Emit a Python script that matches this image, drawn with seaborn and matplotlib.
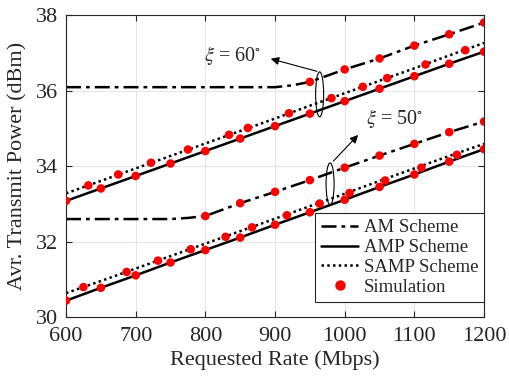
import numpy as np
import matplotlib
matplotlib.use("Agg")
import matplotlib.pyplot as plt
from matplotlib.patches import Ellipse
from matplotlib.lines import Line2D
import seaborn as sns

# ---- data ----
rate = [600, 650, 700, 750, 800, 850, 900, 950, 1000, 1050, 1100, 1150, 1200]

amp_60 = [33.08, 33.41, 33.74, 34.07, 34.40, 34.73, 35.06, 35.39, 35.72, 36.05, 36.38, 36.71, 37.03]
samp_60 = [33.28, 33.61, 33.94, 34.27, 34.60, 34.93, 35.26, 35.60, 35.93, 36.26, 36.59, 36.93, 37.26]
amp_50 = [30.44, 30.78, 31.11, 31.45, 31.78, 32.11, 32.45, 32.78, 33.11, 33.45, 33.78, 34.12, 34.45]
samp_50 = [30.64, 30.96, 31.29, 31.62, 31.95, 32.28, 32.61, 32.94, 33.27, 33.61, 33.94, 34.27, 34.59]

am_60_x = [600, 700, 800, 900, 925, 950, 1000, 1050, 1100, 1150, 1200]
am_60 = [36.09, 36.09, 36.09, 36.09, 36.14, 36.23, 36.56, 36.85, 37.19, 37.49, 37.80]
am_50_x = [600, 650, 700, 750, 775, 800, 850, 900, 950, 1000, 1050, 1100, 1150, 1200]
am_50 = [32.60, 32.60, 32.60, 32.60, 32.63, 32.68, 33.02, 33.32, 33.63, 33.96, 34.28, 34.59, 34.90, 35.18]

# simulation points
sim_am60_x = [950, 1000, 1050, 1100, 1150, 1200]
sim_am60_y = [36.23, 36.56, 36.85, 37.19, 37.49, 37.80]
sim_am50_x = [800, 850, 900, 950, 1000, 1050, 1100, 1150, 1200]
sim_am50_y = [32.68, 33.02, 33.32, 33.63, 33.96, 34.28, 34.59, 34.90, 35.18]
sim_samp60_x = [632, 675, 722, 775, 834, 861, 920, 981, 1026, 1061, 1116, 1173]
sim_samp60_y = [33.49, 33.78, 34.09, 34.44, 34.83, 35.01, 35.40, 35.80, 36.10, 36.33, 36.69, 37.07]
sim_samp50_x = [625, 687, 732, 779, 829, 867, 917, 964, 1007, 1058, 1110, 1161]
sim_samp50_y = [30.80, 31.20, 31.50, 31.80, 32.13, 32.38, 32.70, 33.01, 33.29, 33.62, 33.96, 34.30]

# ---- style ----
sns.set_theme(style="whitegrid")
plt.rcParams["font.family"] = ["Liberation Serif", "DejaVu Serif"]
plt.rcParams["mathtext.fontset"] = "stix"

fig = plt.figure(figsize=(5.09, 3.79), dpi=100)
ax = fig.add_axes([0.1297, 0.1628, 0.8213, 0.7976])

dashdot = (0, (6, 2, 1.5, 2))
dotted = (0, (1, 1.3))
lw = 1.8

# analytical curves
sns.lineplot(x=am_60_x, y=am_60, ax=ax, color="black", lw=lw, linestyle=dashdot)
sns.lineplot(x=am_50_x, y=am_50, ax=ax, color="black", lw=lw, linestyle=dashdot)
sns.lineplot(x=rate, y=amp_60, ax=ax, color="black", lw=lw, linestyle="-")
sns.lineplot(x=rate, y=amp_50, ax=ax, color="black", lw=lw, linestyle="-")
sns.lineplot(x=rate, y=samp_60, ax=ax, color="black", lw=lw, linestyle=dotted)
sns.lineplot(x=rate, y=samp_50, ax=ax, color="black", lw=lw, linestyle=dotted)

# simulation markers
sim_x = rate + rate + sim_am60_x + sim_am50_x + sim_samp60_x + sim_samp50_x
sim_y = amp_60 + amp_50 + sim_am60_y + sim_am50_y + sim_samp60_y + sim_samp50_y
sns.scatterplot(x=sim_x, y=sim_y, ax=ax, color="red", s=38, edgecolor="none", zorder=5)

# ellipses + annotations
ax.add_patch(Ellipse((964, 35.90), 11.5, 1.19, fill=False, ec="black", lw=0.8, zorder=6))
ax.add_patch(Ellipse((979, 33.53), 11.5, 1.11, fill=False, ec="black", lw=0.8, zorder=6))
ax.annotate("", xy=(890, 36.86), xytext=(964, 36.49),
            arrowprops=dict(arrowstyle="-|>", color="black", lw=0.8, mutation_scale=12))
ax.annotate("", xy=(1022, 34.88), xytext=(981, 34.08),
            arrowprops=dict(arrowstyle="-|>", color="black", lw=0.8, mutation_scale=12))
ax.text(881, 36.94, r"$\xi$ = 60$^{\circ}$", ha="right", va="center", fontsize=14.5)
ax.text(1031, 35.27, r"$\xi$ = 50$^{\circ}$", ha="left", va="center", fontsize=14.5)

# axes
ax.set_xlim(600, 1200)
ax.set_ylim(30, 38)
ax.set_xticks([600, 700, 800, 900, 1000, 1100, 1200])
ax.set_yticks([30, 32, 34, 36, 38])
ax.set_xlabel("Requested Rate (Mbps)", fontsize=16, color="#262626", labelpad=3)
ax.set_ylabel("Avr. Transmit Power (dBm)", fontsize=16, color="#262626")
ax.yaxis.set_label_coords(-0.093, 0.5)
ax.tick_params(direction="in", length=4, width=0.8, labelsize=16, colors="#262626",
               top=True, right=True, bottom=True, left=True)
ax.tick_params(axis="x", pad=7)
ax.tick_params(axis="y", pad=5.5)
ax.grid(True, color="#e6e6e6", lw=0.8)
ax.set_facecolor("white")
for s in ax.spines.values():
    s.set_color("#262626")
    s.set_linewidth(0.8)

handles = [
    Line2D([], [], color="black", lw=lw, linestyle=dashdot),
    Line2D([], [], color="black", lw=lw, linestyle="-"),
    Line2D([], [], color="black", lw=lw, linestyle=dotted),
    Line2D([], [], color="red", marker="o", ms=6.5, linestyle="none"),
]
labels = ["AM Scheme", "AMP Scheme", "SAMP Scheme", "Simulation"]
leg = ax.legend(handles, labels, loc="lower right", bbox_to_anchor=(1.0, 0.052),
                borderaxespad=0, fontsize=13.5, handlelength=2.0, handletextpad=0.3,
                labelspacing=0.15, borderpad=0.3, fancybox=False, framealpha=1,
                edgecolor="#262626")
leg.get_frame().set_linewidth(0.8)

fig.savefig("out.png", dpi=100)
